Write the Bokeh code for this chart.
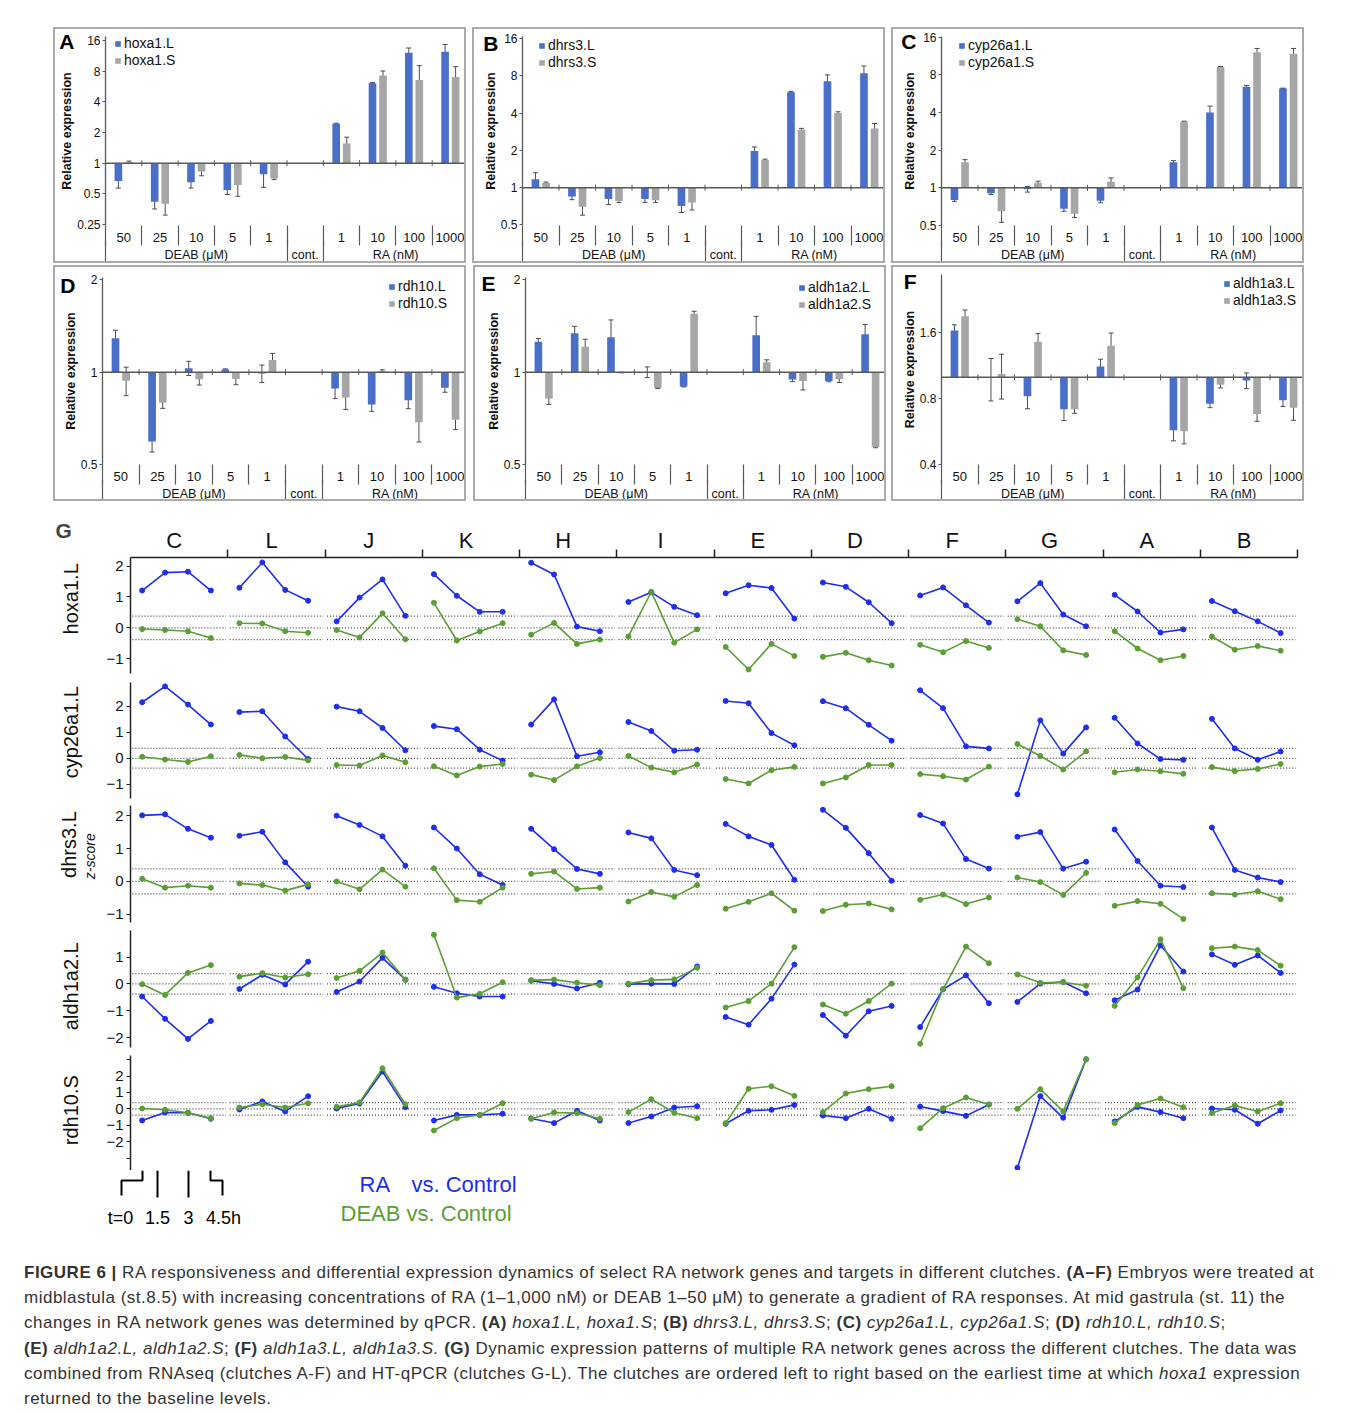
import math
from bokeh.plotting import figure
from bokeh.models import (Range1d, LinearAxis, LogAxis, FixedTicker, ColumnDataSource, Whisker,
                          TeeHead, Span, Legend, LegendItem, Div, Spacer)
from bokeh.layouts import column, row
from bokeh.embed import file_html
from bokeh.resources import INLINE
from bokeh.core.properties import value

FONT = "Liberation Sans"
NB = "\u00a0"

# ---------------- Panels A-F : data ----------------
conc_labels = ["50", "25", "10", "5", "1", "", "1", "10", "100", "1000"]
group_names = ["DEAB (μM)", "cont.", "RA (nM)"]
group_sizes = [5, 1, 4]
treated_idx = [0, 1, 2, 3, 4, 6, 7, 8, 9]   # category of each measured condition (control = 1)

hoxa1_L = [0.67, 0.42, 0.65, 0.545, 0.78, 2.44, 6.1, 12.1, 12.4]
hoxa1_L_sd = [0.10, 0.064, 0.08, 0.052, 0.2, 0.03, 0.1, 1.4, 2.2]
hoxa1_S = [1.03, 0.40, 0.83, 0.61, 0.71, 1.56, 7.25, 6.55, 7.0]
hoxa1_S_sd = [0.02, 0.09, 0.077, 0.136, 0.02, 0.24, 0.78, 2.5, 1.85]

dhrs3_L = [1.17, 0.85, 0.81, 0.81, 0.71, 1.98, 5.9, 7.24, 8.4]
dhrs3_L_sd = [0.15, 0.05, 0.08, 0.05, 0.08, 0.15, 0.08, 0.9, 1.2]
dhrs3_S = [1.09, 0.70, 0.78, 0.79, 0.76, 1.67, 2.94, 4.0, 3.0]
dhrs3_S_sd = [0.02, 0.10, 0.02, 0.03, 0.10, 0.03, 0.07, 0.1, 0.3]

cyp26a1_L = [0.80, 0.905, 0.975, 0.68, 0.79, 1.6, 4.0, 6.43, 6.23]
cyp26a1_L_sd = [0.02, 0.02, 0.05, 0.03, 0.03, 0.05, 0.5, 0.15, 0.03]
cyp26a1_S = [1.6, 0.65, 1.1, 0.62, 1.12, 3.38, 9.23, 12.1, 11.8]
cyp26a1_S_sd = [0.08, 0.12, 0.03, 0.04, 0.08, 0.03, 0.1, 0.9, 1.2]

rdh10_L = [1.29, 0.594, 1.03, 1.02, 0.99, 0.885, 0.785, 0.81, 0.89]
rdh10_L_sd = [0.08, 0.045, 0.055, 0.005, 0.065, 0.065, 0.04, 0.05, 0.03]
rdh10_S = [0.938, 0.797, 0.948, 0.95, 1.096, 0.826, 1.008, 0.687, 0.70]
rdh10_S_sd = [0.1, 0.035, 0.04, 0.04, 0.055, 0.07, 0.01, 0.095, 0.05]

aldh1a2_L = [1.257, 1.34, 1.30, 1.0, 0.898, 1.32, 0.946, 0.935, 1.33]
aldh1a2_L_sd = [0.03, 0.07, 0.18, 0.04, 0.003, 0.2, 0.015, 0.005, 0.1]
aldh1a2_S = [0.82, 1.21, 0.997, 0.889, 1.55, 1.077, 0.935, 0.95, 0.57]
aldh1a2_S_sd = [0.035, 0.07, 0.002, 0.005, 0.03, 0.02, 0.06, 0.025, 0.003]

aldh1a3_L = [1.637, 1.0, 0.819, 0.715, 1.12, 0.573, 0.757, 0.968, 0.787]
aldh1a3_L_sd = [0.1, 0.22, 0.1, 0.08, 0.09, 0.06, 0.03, 0.08, 0.05]
aldh1a3_S = [1.9, 1.036, 1.455, 0.715, 1.394, 0.567, 0.925, 0.68, 0.727]
aldh1a3_S_sd = [0.13, 0.24, 0.13, 0.03, 0.2, 0.07, 0.03, 0.05, 0.09]

# ---------------- Panel G : data (z-scores) ----------------
clutches = ["C", "L", "J", "K", "H", "I", "E", "D", "F", "G", "A", "B"]
times = [0, 1.5, 3, 4.5]
baseline_band = 0.38

ra_hoxa1 = [[1.21, 1.79, 1.82, 1.21], [1.30, 2.12, 1.23, 0.88], [0.21, 0.98, 1.57, 0.39],
            [1.74, 1.04, 0.52, 0.52], [2.11, 1.73, 0.04, -0.11], [0.84, 1.15, 0.68, 0.41],
            [1.12, 1.38, 1.29, 0.30], [1.47, 1.33, 0.83, 0.15], [1.05, 1.31, 0.73, 0.17],
            [0.86, 1.45, 0.43, 0.05], [1.07, 0.53, -0.15, -0.05], [0.87, 0.54, 0.21, -0.17]]
deab_hoxa1 = [[-0.04, -0.07, -0.11, -0.33], [0.15, 0.14, -0.11, -0.16], [-0.07, -0.31, 0.47, -0.37],
              [0.81, -0.41, -0.12, 0.15], [-0.22, 0.16, -0.52, -0.38], [-0.28, 1.17, -0.48, -0.05],
              [-0.62, -1.35, -0.52, -0.91], [-0.94, -0.81, -1.05, -1.22], [-0.55, -0.79, -0.43, -0.65],
              [0.28, 0.05, -0.73, -0.88], [-0.11, -0.67, -1.05, -0.91], [-0.28, -0.71, -0.59, -0.74]]
ra_cyp26a1 = [[2.16, 2.77, 2.07, 1.30], [1.78, 1.81, 0.84, -0.03], [1.99, 1.81, 1.17, 0.31],
              [1.24, 1.12, 0.33, -0.09], [1.30, 2.27, 0.08, 0.23], [1.40, 1.05, 0.29, 0.33],
              [2.21, 2.12, 0.97, 0.50], [2.20, 1.93, 1.29, 0.68], [2.62, 1.93, 0.46, 0.38],
              [-1.39, 1.46, 0.18, 1.19], [1.56, 0.57, -0.03, -0.06], [1.52, 0.38, -0.06, 0.26]]
deab_cyp26a1 = [[0.06, -0.05, -0.14, 0.08], [0.13, 0.0, 0.05, -0.08], [-0.26, -0.28, 0.11, -0.15],
                [-0.31, -0.66, -0.32, -0.22], [-0.63, -0.84, -0.31, 0.01], [0.09, -0.36, -0.54, -0.24],
                [-0.80, -0.97, -0.46, -0.33], [-0.97, -0.74, -0.26, -0.26], [-0.61, -0.69, -0.82, -0.32],
                [0.55, 0.09, -0.43, 0.27], [-0.54, -0.43, -0.50, -0.60], [-0.34, -0.49, -0.41, -0.22]]
ra_dhrs3 = [[2.01, 2.04, 1.60, 1.33], [1.39, 1.51, 0.58, -0.16], [2.00, 1.72, 1.37, 0.48],
            [1.64, 1.00, 0.22, -0.11], [1.60, 0.98, 0.38, 0.23], [1.49, 1.31, 0.35, 0.19],
            [1.75, 1.37, 1.11, 0.05], [2.18, 1.63, 0.86, 0.02], [2.02, 1.76, 0.68, 0.39],
            [1.36, 1.50, 0.39, 0.60], [1.58, 0.62, -0.13, -0.17], [1.64, 0.35, 0.12, -0.02]]
deab_dhrs3 = [[0.08, -0.19, -0.13, -0.19], [-0.06, -0.11, -0.28, -0.09], [0.00, -0.24, 0.36, -0.16],
              [0.40, -0.57, -0.62, -0.19], [0.23, 0.30, -0.23, -0.19], [-0.61, -0.32, -0.47, -0.11],
              [-0.83, -0.62, -0.36, -0.89], [-0.90, -0.71, -0.67, -0.85], [-0.56, -0.40, -0.69, -0.49],
              [0.12, -0.02, -0.41, 0.26], [-0.74, -0.60, -0.68, -1.14], [-0.36, -0.40, -0.30, -0.54]]
ra_aldh1a2 = [[-0.47, -1.30, -2.05, -1.38], [-0.19, 0.34, -0.02, 0.83], [-0.30, 0.09, 0.97, 0.16],
              [-0.11, -0.35, -0.47, -0.47], [0.12, 0.00, -0.17, 0.04], [-0.01, 0.01, 0.00, 0.65],
              [-1.23, -1.52, -0.55, 0.72], [-1.16, -1.93, -1.02, -0.82], [-1.61, -0.20, 0.32, -0.72],
              [-0.67, 0.01, 0.07, -0.35], [-0.61, -0.21, 1.43, 0.46], [1.10, 0.71, 1.06, 0.41]]
deab_aldh1a2 = [[-0.01, -0.41, 0.41, 0.70], [0.27, 0.40, 0.24, 0.36], [0.22, 0.49, 1.17, 0.15],
                [1.83, -0.51, -0.37, 0.06], [0.14, 0.16, 0.04, -0.05], [0.01, 0.14, 0.17, 0.60],
                [-0.88, -0.64, 0.01, 1.37], [-0.77, -1.11, -0.64, 0.01], [-2.23, -0.20, 1.39, 0.77],
                [0.35, 0.04, 0.06, -0.07], [-0.82, 0.24, 1.66, -0.16], [1.33, 1.39, 1.26, 0.68]]
ra_rdh10 = [[-0.71, -0.22, -0.24, -0.61], [-0.04, 0.45, -0.16, 0.77], [0.02, 0.32, 2.27, 0.10],
            [-0.71, -0.37, -0.37, -0.30], [-0.59, -0.87, -0.12, -0.71], [-0.87, -0.47, 0.08, 0.16],
            [-0.91, -0.12, -0.06, 0.24], [-0.41, -0.57, 0.00, -0.61], [0.14, -0.14, -0.43, 0.26],
            [-3.59, 0.77, -0.55, 3.02], [-0.77, 0.12, -0.20, -0.57], [0.02, -0.06, -0.91, -0.10]]
deab_rdh10 = [[0.02, -0.06, -0.24, -0.57], [0.08, 0.28, 0.08, 0.34], [0.12, 0.39, 2.47, 0.28],
              [-1.32, -0.57, -0.37, 0.34], [-0.61, -0.22, -0.26, -0.61], [-0.20, 0.59, -0.24, -0.57],
              [-0.87, 1.22, 1.38, 0.79], [-0.20, 0.93, 1.20, 1.38], [-1.18, 0.04, 0.69, 0.26],
              [0.00, 1.20, -0.16, 3.02], [-0.87, 0.24, 0.63, 0.10], [-0.26, 0.20, -0.16, 0.34]]

# ---------------- styles ----------------
BAR_BLUE = "#4A6FC8"
BAR_GRAY = "#A6A6A6"
AX = "#595959"
LINE_BLUE = "#1E2DF2"
LINE_GREEN = "#5B9E34"
TXT = "#111111"


def bar_panel(letter, nameL, nameS, Lv, Lsd, Sv, Ssd, yr, yticks, left, top, bottom,
              letter_val, letter_standoff, legend_xy):
    p = figure(width=413, height=236, y_axis_type="log", x_range=Range1d(0, 10),
               y_range=Range1d(*yr), x_axis_location=None, toolbar_location=None,
               output_backend="svg", min_border_left=left, min_border_right=0,
               min_border_top=top, min_border_bottom=bottom, frame_align=False)
    p.styles = {"border": "2px solid #ABABAB"}
    p.grid.visible = False
    p.outline_line_color = None
    ya = p.yaxis[0]
    ya.ticker = FixedTicker(ticks=yticks)
    ya.major_label_overrides = {t: ("%g" % t) for t in yticks}
    ya.axis_line_color = AX
    ya.axis_line_width = 1.3
    ya.major_tick_out = 3
    ya.major_tick_in = 0
    ya.major_tick_line_color = AX
    ya.minor_tick_line_color = None
    ya.major_label_text_font = FONT
    ya.major_label_text_font_size = "12px"
    ya.major_label_text_color = TXT
    ya.major_label_standoff = 2
    ya.axis_label = "Relative expression"
    ya.axis_label_text_font = FONT
    ya.axis_label_text_font_size = "12.5px"
    ya.axis_label_text_font_style = "bold"
    ya.axis_label_text_color = TXT
    ya.axis_label_standoff = 0

    # panel letter (an outer left axis with a single labelled tick)
    la = LogAxis(ticker=FixedTicker(ticks=[letter_val]),
                 major_label_overrides={letter_val: letter},
                 axis_line_color=None, major_tick_line_color=None, minor_tick_line_color=None,
                 major_tick_out=0, major_tick_in=0, minor_tick_out=0, minor_tick_in=0,
                 major_label_standoff=letter_standoff, major_label_text_font=FONT,
                 major_label_text_font_size="21px", major_label_text_font_style="bold",
                 major_label_text_color="black")
    p.add_layout(la, "left")

    p.add_layout(Span(location=1, dimension="width", line_color=AX, line_width=1.5))
    p.scatter(x=list(range(1, 10)), y=[1] * 9, marker="dash", angle=math.pi / 2,
              size=6, line_color=AX, line_width=1)

    xL = [i + 0.5 - 0.145 for i in treated_idx]
    xS = [i + 0.5 + 0.145 for i in treated_idx]
    rL = p.vbar(x=xL, top=Lv, bottom=1, width=0.21, fill_color=BAR_BLUE, line_color=None)
    rS = p.vbar(x=xS, top=Sv, bottom=1, width=0.21, fill_color=BAR_GRAY, line_color=None)
    vals = Lv + Sv
    sds = Lsd + Ssd
    src = ColumnDataSource(dict(x=xL + xS, up=[v + s for v, s in zip(vals, sds)],
                                lo=[max(v - s, 0.01) for v, s in zip(vals, sds)]))
    p.add_layout(Whisker(source=src, base="x", upper="up", lower="lo", line_color="#4d4d4d",
                         line_width=1,
                         upper_head=TeeHead(size=5, line_color="#4d4d4d", line_width=1),
                         lower_head=TeeHead(size=5, line_color="#4d4d4d", line_width=1)))

    # nested category axis: concentrations, then treatment groups
    centers = [i + 0.5 for i, lab in enumerate(conc_labels) if lab]
    ax1 = LinearAxis(ticker=FixedTicker(ticks=centers, minor_ticks=list(range(0, 10))),
                     major_label_overrides={i + 0.5: lab for i, lab in enumerate(conc_labels) if lab},
                     axis_line_color=None, major_tick_line_color=None, major_tick_in=0,
                     major_tick_out=0, minor_tick_in=0, minor_tick_out=20,
                     minor_tick_line_color=AX, minor_tick_line_width=1.2,
                     major_label_standoff=-13, major_label_text_font=FONT,
                     major_label_text_font_size="13px", major_label_text_color=TXT)
    starts, acc = [], 0
    for n in group_sizes:
        starts.append(acc)
        acc += n
    gcent = [s + n / 2 for s, n in zip(starts, group_sizes)]
    ax2 = LinearAxis(ticker=FixedTicker(ticks=gcent, minor_ticks=starts),
                     major_label_overrides=dict(zip(gcent, group_names)),
                     axis_line_color=None, major_tick_line_color=None, major_tick_in=0,
                     major_tick_out=0, minor_tick_in=4, minor_tick_out=19,
                     minor_tick_line_color=AX, minor_tick_line_width=1.2,
                     major_label_standoff=-16, major_label_text_font=FONT,
                     major_label_text_font_size="12.5px", major_label_text_color=TXT)
    p.add_layout(ax1, "below")
    p.add_layout(ax2, "below")

    leg = Legend(items=[LegendItem(label=nameL, renderers=[rL]),
                        LegendItem(label=nameS, renderers=[rS])],
                 location=legend_xy, border_line_color=None, background_fill_alpha=0,
                 label_text_font=FONT, label_text_font_size="14px", label_text_color=TXT,
                 glyph_width=7, glyph_height=7, label_standoff=3, label_height=15,
                 spacing=1, padding=0, margin=0)
    p.add_layout(leg)
    return p


pA = bar_panel("A", "hoxa1.L", "hoxa1.S", hoxa1_L, hoxa1_L_sd, hoxa1_S, hoxa1_S_sd,
               (0.245, 17.5), [0.25, 0.5, 1, 2, 4, 8, 16], 50, 7, 40, 15.6, -17, (9, 157))
pB = bar_panel("B", "dhrs3.L", "dhrs3.S", dhrs3_L, dhrs3_L_sd, dhrs3_S, dhrs3_S_sd,
               (0.495, 16.6), [0.5, 1, 2, 4, 8, 16], 48, 7, 40, 14.6, -18, (16, 155))
pC = bar_panel("C", "cyp26a1.L", "cyp26a1.S", cyp26a1_L, cyp26a1_L_sd, cyp26a1_S, cyp26a1_S_sd,
               (0.5, 16.2), [0.5, 1, 2, 4, 8, 16], 48, 7, 40, 15.0, -17, (17, 155))
pD = bar_panel("D", "rdh10.L", "rdh10.S", rdh10_L, rdh10_L_sd, rdh10_S, rdh10_S_sd,
               (0.5, 2.035), [0.5, 1, 2], 47, 10, 39, 1.91, -15, (286, 153))
pE = bar_panel("E", "aldh1a2.L", "aldh1a2.S", aldh1a2_L, aldh1a2_L_sd, aldh1a2_S, aldh1a2_S_sd,
               (0.5, 2.035), [0.5, 1, 2], 50, 10, 39, 1.95, -12, (273, 152))
pF = bar_panel("F", "aldh1a3.L", "aldh1a3.S", aldh1a3_L, aldh1a3_L_sd, aldh1a3_S, aldh1a3_S_sd,
               (0.4, 2.95), [0.4, 0.8, 1.6], 48, 7, 39, 2.75, -17, (282, 156))


def g_row(gene, ra, deab, yr, ticks, hidden, height, top, bottom, header=False, sublabel=None,
          lift=0, sublift=0):
    p = figure(width=1308, height=height, x_range=Range1d(0, 12), y_range=Range1d(*yr),
               x_axis_location=None, y_axis_location=None, toolbar_location=None,
               output_backend="svg", min_border_left=130, min_border_right=11,
               min_border_top=top, min_border_bottom=bottom, frame_align=False)
    p.outline_line_color = None
    p.grid.visible = False
    yax = LinearAxis(ticker=FixedTicker(ticks=ticks),
                     major_label_overrides={t: "" for t in hidden},
                     axis_line_color="#222", axis_line_width=1.5,
                     major_tick_out=4, major_tick_in=0, major_tick_line_color="#222",
                     major_tick_line_width=1.2, minor_tick_line_color=None,
                     major_label_text_font=FONT, major_label_text_font_size="15px",
                     major_label_text_color=TXT, major_label_standoff=3,
                     axis_label_text_font=FONT, axis_label_text_color=TXT)
    # leading no-break spaces nudge the (centred, rotated) row label upward as in the original
    if sublabel is None:
        yax.axis_label = NB * lift + gene
        yax.axis_label_text_font_size = "20px"
        yax.axis_label_text_font_style = "normal"
        yax.axis_label_standoff = 21
        p.add_layout(yax, "left")
    else:
        yax.axis_label = NB * sublift + sublabel
        yax.axis_label_text_font_size = "14px"
        yax.axis_label_text_font_style = "italic"
        yax.axis_label_standoff = 5
        p.add_layout(yax, "left")
        outer = LinearAxis(ticker=FixedTicker(ticks=[]), axis_line_color=None,
                           major_tick_line_color=None, minor_tick_line_color=None,
                           major_tick_out=0, major_tick_in=0, minor_tick_out=0, minor_tick_in=0,
                           major_label_standoff=0, axis_label=NB * lift + gene,
                           axis_label_standoff=0,
                           axis_label_text_font=FONT, axis_label_text_font_size="20px",
                           axis_label_text_font_style="normal", axis_label_text_color=TXT)
        p.add_layout(outer, "left")
    for lev in (-baseline_band, 0, baseline_band):
        p.segment(x0=[i + 0.02 for i in range(12)], y0=[lev] * 12,
                  x1=[i + 0.98 for i in range(12)], y1=[lev] * 12,
                  line_color="#444", line_width=1.2, line_dash="1 2")
    xs = [[i + 0.12 + t * 0.157 for t in times] for i in range(12)]
    flat_x = [x for xx in xs for x in xx]
    for data, col in ((ra, LINE_BLUE), (deab, LINE_GREEN)):
        p.multi_line(xs=xs, ys=data, line_color=col, line_width=1.6)
        p.scatter(x=flat_x, y=[v for vv in data for v in vv], size=5, color=col)
    if header:
        centers = [i + 0.45 for i in range(12)]
        hx = LinearAxis(ticker=FixedTicker(ticks=centers, minor_ticks=list(range(1, 13))),
                        major_label_overrides=dict(zip(centers, clutches)),
                        axis_line_color="#222", axis_line_width=1.5,
                        major_tick_line_color=None, major_tick_in=0, major_tick_out=0,
                        minor_tick_in=0, minor_tick_out=8, minor_tick_line_color="#222",
                        minor_tick_line_width=1.5, major_label_standoff=-3,
                        major_label_text_font=FONT, major_label_text_font_size="22px",
                        major_label_text_color=TXT)
        p.add_layout(hx, "above")
    return p


g1 = g_row("hoxa1.L", ra_hoxa1, deab_hoxa1, (-1.48, 2.28), [-1, 0, 1, 2], [], 176, 56, 4,
           header=True, lift=6)
g1.title.text = "G"
g1.title.align = "left"
g1.title.offset = -75
g1.title.standoff = -34
g1.title.text_font = FONT
g1.title.text_font_size = "21px"
g1.title.text_font_style = "bold"
g2 = g_row("cyp26a1.L", ra_cyp26a1, deab_cyp26a1, (-1.55, 2.92), [-1, 0, 1, 2], [], 125, 5, 4,
           lift=3)
g3 = g_row("dhrs3.L", ra_dhrs3, deab_dhrs3, (-1.25, 2.31), [-1, 0, 1, 2], [], 124, 3, 4,
           sublabel="z-score", lift=7, sublift=4)
g4 = g_row("aldh1a2.L", ra_aldh1a2, deab_aldh1a2, (-2.37, 1.99), [-2, -1, 0, 1], [], 125, 4, 4,
           lift=1)
g5 = g_row("rdh10.S", ra_rdh10, deab_rdh10, (-3.76, 3.25), [-3, -2, -1, 0, 1, 2, 3], [-3, 3],
           119, 4, 0, lift=1)

# key below panel G (time scheme + colour key), drawn in page-pixel coordinates
lg = figure(width=1308, height=70, x_range=Range1d(0, 1308), y_range=Range1d(1240, 1170),
            x_axis_location=None, y_axis_location=None, toolbar_location=None,
            output_backend="svg", min_border_left=0, min_border_right=0,
            min_border_top=0, min_border_bottom=0, frame_align=False)
lg.outline_line_color = None
lg.grid.visible = False
lg.multi_line(xs=[[121, 121, 142, 142], [157, 157], [188, 188], [210, 210, 222, 222]],
              ys=[[1195, 1180, 1180, 1170], [1170, 1197], [1170, 1197], [1170, 1180, 1180, 1195]],
              line_color="black", line_width=2)
time_labels = ["t=%g" % times[0]] + ["%g" % t for t in times[1:-1]] + ["%gh" % times[-1]]
lg.text(x=[120, 157, 188, 223], y=[1217] * 4, text=time_labels, text_font=value(FONT),
        text_font_size="18px", text_align="center", text_baseline="middle", text_color="black")
lg.text(x=[359, 411], y=[1184, 1184], text=["RA", "vs. Control"], text_font=value(FONT),
        text_font_size="22px", text_align="left", text_baseline="middle", text_color=LINE_BLUE)
lg.text(x=[340], y=[1213], text=["DEAB vs. Control"], text_font=value(FONT),
        text_font_size="22px", text_align="left", text_baseline="middle", text_color=LINE_GREEN)

caption_html = (
    '<div style="font-family:\'Liberation Sans\',Arial,sans-serif;font-size:17px;'
    'letter-spacing:0.5px;line-height:25.2px;color:#333;white-space:nowrap;'
    'padding-left:24px;padding-top:20px;">'
    '<b>FIGURE 6 |</b> RA responsiveness and differential expression dynamics of select RA network '
    'genes and targets in different clutches. <b>(A–F)</b> Embryos were treated at<br>'
    'midblastula (st.8.5) with increasing concentrations of RA (1–1,000 nM) or DEAB 1–50 μM) to '
    'generate a gradient of RA responses. At mid gastrula (st. 11) the<br>'
    'changes in RA network genes was determined by qPCR. <b>(A)</b> <i>hoxa1.L, hoxa1.S</i>; '
    '<b>(B)</b> <i>dhrs3.L, dhrs3.S</i>; <b>(C)</b> <i>cyp26a1.L, cyp26a1.S</i>; '
    '<b>(D)</b> <i>rdh10.L, rdh10.S</i>;<br>'
    '<b>(E)</b> <i>aldh1a2.L, aldh1a2.S</i>; <b>(F)</b> <i>aldh1a3.L, aldh1a3.S.</i> '
    '<b>(G)</b> Dynamic expression patterns of multiple RA network genes across the different '
    'clutches. The data was<br>'
    'combined from RNAseq (clutches A-F) and HT-qPCR (clutches G-L). The clutches are ordered '
    'left to right based on the earliest time at which <i>hoxa1</i> expression<br>'
    'returned to the baseline levels.</div>')
cap = Div(text=caption_html, width=1350, height=172, margin=(0, 0, 0, 0))

layout = column(
    Spacer(width=10, height=27),
    row(Spacer(width=53, height=10), pA, Spacer(width=6, height=10), pB,
        Spacer(width=6, height=10), pC),
    Spacer(width=10, height=2),
    row(Spacer(width=53, height=10), pD, Spacer(width=7, height=10), pE,
        Spacer(width=5, height=10), pF),
    g1, g2, g3, g4, g5, lg, cap)

open("out.html", "w").write(file_html(layout, INLINE))
